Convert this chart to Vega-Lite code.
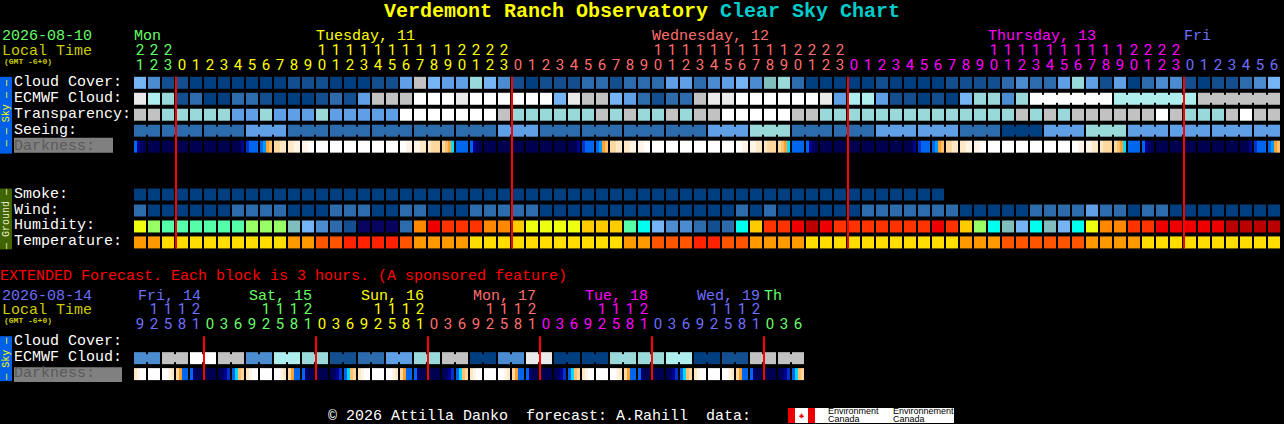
{"$schema":"https://vega.github.io/schema/vega-lite/v6.json","width":1284,"height":424,"padding":0,"autosize":{"type":"fit","contains":"padding"},"background":"#000000","config":{"view":{"stroke":null}},
"encoding":{"x":{"field":"col","type":"quantitative","axis":null,"scale":{"domain":[-10,81.7142857],"nice":false,"zero":false}},"y":{"field":"row","type":"quantitative","axis":null,"scale":{"domain":[-5.1875,21.3125],"reverse":true,"nice":false,"zero":false}},"color":{"field":"cat","type":"nominal","legend":null,"scale":{"domain":["a","b","c","d","e","f","g","h","i","j","k","w","n","YG","G","M","CY","Y2","O","R","E","D","P","Q","S","T","n0","n1","n2","n3","B","B2","C","O1","O2","O3","O4","O5","gr","ye","sa","ma","bl","wh","lo","re","cy","dg","bk","sk","gb","gy","fl","gt"],"range":["#003F7F","#134F8F","#2C6CAC","#4B8BD0","#5F9FE5","#74B4F5","#80BDBD","#99D9D9","#AEEEEE","#C2C2C2","#EAEAEA","#FFFFFF","#08035F","#EEFF10","#99FF66","#55FFAA","#00FFEE","#FFCC00","#FF8800","#FF3300","#EE0000","#BB0000","#FF9900","#FFDD00","#FF5500","#FF2200","#000050","#00006A","#000090","#0033CC","#0066EE","#0099FF","#00DDFF","#FFA030","#FFC070","#FFD8A0","#FFE8C8","#FFF4E6","#66FF66","#FFFF00","#FF6E6E","#FF00FF","#6E6EFF","#FFFFFF","#CCCC00","#FF0000","#00CCCC","#5A5A5A","#000000","#0060E8","#3F6400","#808080","#EE0000","#EEEECC"]}}},
"layer":[
{"data":{"values":[
{"col":-10,"col2":-9.143,"row":-0.375,"row2":4.4375,"cat":"sk"},
{"col":-10,"col2":-9.143,"row":6.625,"row2":10.4375,"cat":"gb"},
{"col":-10,"col2":-9.143,"row":15.875,"row2":18.6875,"cat":"sk"},
{"col":-9,"col2":-1.929,"row":3.4375,"row2":4.375,"cat":"gy"},
{"col":-9,"col2":-1.286,"row":17.8125,"row2":18.75,"cat":"gy"},
{"col":46.286,"col2":58.143,"row":20.375,"row2":21.3125,"cat":"wh"},
{"col":46.286,"col2":46.786,"row":20.375,"row2":21.3125,"cat":"fl"},
{"col":47.714,"col2":48.214,"row":20.375,"row2":21.3125,"cat":"fl"}]},
"mark":{"type":"rect"},"encoding":{"x2":{"field":"col2"},"y2":{"field":"row2"}}},
{"data":{"values":[{"col":47.25,"row":20.875,"cat":"fl"}]},"mark":{"type":"point","filled":true,"opacity":1,"size":30,"shape":"M0,-1 L.25,-.45 .5,-.6 .4,-.1 .9,-.2 .75,.1 .95,.3 .3,.45 .35,.7 .05,.6 .05,1 -.05,1 -.05,.6 -.35,.7 -.3,.45 -.95,.3 -.75,.1 -.9,-.2 -.4,-.1 -.5,-.6 -.25,-.45Z"}},
{"data":{"values":[
{"col":0,"row":0,"cat":"f"},{"col":1,"row":0,"cat":"d"},{"col":2,"row":0,"cat":"b"},{"col":3,"row":0,"cat":"b"},{"col":4,"row":0,"cat":"a"},{"col":5,"row":0,"cat":"a"},{"col":6,"row":0,"cat":"a"},{"col":7,"row":0,"cat":"a"},{"col":8,"row":0,"cat":"a"},{"col":9,"row":0,"cat":"a"},{"col":10,"row":0,"cat":"a"},{"col":11,"row":0,"cat":"b"},{"col":12,"row":0,"cat":"b"},{"col":13,"row":0,"cat":"b"},{"col":14,"row":0,"cat":"a"},{"col":15,"row":0,"cat":"a"},{"col":16,"row":0,"cat":"a"},{"col":17,"row":0,"cat":"b"},{"col":18,"row":0,"cat":"b"},{"col":19,"row":0,"cat":"e"},{"col":20,"row":0,"cat":"j"},{"col":21,"row":0,"cat":"f"},{"col":22,"row":0,"cat":"e"},{"col":23,"row":0,"cat":"e"},{"col":24,"row":0,"cat":"h"},{"col":25,"row":0,"cat":"f"},{"col":26,"row":0,"cat":"d"},{"col":27,"row":0,"cat":"b"},{"col":28,"row":0,"cat":"a"},{"col":29,"row":0,"cat":"b"},{"col":30,"row":0,"cat":"b"},{"col":31,"row":0,"cat":"b"},{"col":32,"row":0,"cat":"c"},{"col":33,"row":0,"cat":"c"},{"col":34,"row":0,"cat":"b"},{"col":35,"row":0,"cat":"c"},{"col":36,"row":0,"cat":"c"},{"col":37,"row":0,"cat":"c"},{"col":38,"row":0,"cat":"e"},{"col":39,"row":0,"cat":"e"},{"col":40,"row":0,"cat":"c"},{"col":41,"row":0,"cat":"d"},{"col":42,"row":0,"cat":"e"},{"col":43,"row":0,"cat":"f"},{"col":44,"row":0,"cat":"d"},{"col":45,"row":0,"cat":"g"},{"col":46,"row":0,"cat":"h"},{"col":47,"row":0,"cat":"c"},{"col":48,"row":0,"cat":"a"},{"col":49,"row":0,"cat":"a"},{"col":50,"row":0,"cat":"a"},{"col":51,"row":0,"cat":"a"},{"col":52,"row":0,"cat":"a"},{"col":53,"row":0,"cat":"b"},{"col":54,"row":0,"cat":"a"},{"col":55,"row":0,"cat":"a"},{"col":56,"row":0,"cat":"a"},{"col":57,"row":0,"cat":"a"},{"col":58,"row":0,"cat":"b"},{"col":59,"row":0,"cat":"b"},{"col":60,"row":0,"cat":"b"},{"col":61,"row":0,"cat":"b"},{"col":62,"row":0,"cat":"c"},{"col":63,"row":0,"cat":"d"},{"col":64,"row":0,"cat":"c"},{"col":65,"row":0,"cat":"c"},{"col":66,"row":0,"cat":"e"},{"col":67,"row":0,"cat":"h"},{"col":68,"row":0,"cat":"e"},{"col":69,"row":0,"cat":"b"},{"col":70,"row":0,"cat":"e"},{"col":71,"row":0,"cat":"a"},{"col":72,"row":0,"cat":"c"},{"col":73,"row":0,"cat":"d"},{"col":74,"row":0,"cat":"d"},{"col":75,"row":0,"cat":"b"},{"col":76,"row":0,"cat":"a"},{"col":77,"row":0,"cat":"b"},{"col":78,"row":0,"cat":"b"},{"col":79,"row":0,"cat":"c"},{"col":80,"row":0,"cat":"d"},{"col":81,"row":0,"cat":"f"},
{"col":0,"row":1,"cat":"k"},{"col":1,"row":1,"cat":"i"},{"col":2,"row":1,"cat":"h"},{"col":3,"row":1,"cat":"b"},{"col":4,"row":1,"cat":"c"},{"col":5,"row":1,"cat":"a"},{"col":6,"row":1,"cat":"a"},{"col":7,"row":1,"cat":"c"},{"col":8,"row":1,"cat":"c"},{"col":9,"row":1,"cat":"b"},{"col":10,"row":1,"cat":"a"},{"col":11,"row":1,"cat":"a"},{"col":12,"row":1,"cat":"a"},{"col":13,"row":1,"cat":"b"},{"col":14,"row":1,"cat":"c"},{"col":15,"row":1,"cat":"b"},{"col":16,"row":1,"cat":"e"},{"col":17,"row":1,"cat":"j"},{"col":18,"row":1,"cat":"j"},{"col":19,"row":1,"cat":"j"},{"col":20,"row":1,"cat":"w"},{"col":21,"row":1,"cat":"w"},{"col":22,"row":1,"cat":"w"},{"col":23,"row":1,"cat":"k"},{"col":24,"row":1,"cat":"w"},{"col":25,"row":1,"cat":"w"},{"col":26,"row":1,"cat":"w"},{"col":27,"row":1,"cat":"w"},{"col":28,"row":1,"cat":"w"},{"col":29,"row":1,"cat":"w"},{"col":30,"row":1,"cat":"f"},{"col":31,"row":1,"cat":"k"},{"col":32,"row":1,"cat":"j"},{"col":33,"row":1,"cat":"j"},{"col":34,"row":1,"cat":"f"},{"col":35,"row":1,"cat":"e"},{"col":36,"row":1,"cat":"c"},{"col":37,"row":1,"cat":"b"},{"col":38,"row":1,"cat":"c"},{"col":39,"row":1,"cat":"c"},{"col":40,"row":1,"cat":"j"},{"col":41,"row":1,"cat":"k"},{"col":42,"row":1,"cat":"k"},{"col":43,"row":1,"cat":"w"},{"col":44,"row":1,"cat":"w"},{"col":45,"row":1,"cat":"w"},{"col":46,"row":1,"cat":"w"},{"col":47,"row":1,"cat":"w"},{"col":48,"row":1,"cat":"w"},{"col":49,"row":1,"cat":"k"},{"col":50,"row":1,"cat":"e"},{"col":51,"row":1,"cat":"i"},{"col":52,"row":1,"cat":"i"},{"col":53,"row":1,"cat":"e"},{"col":54,"row":1,"cat":"b"},{"col":55,"row":1,"cat":"b"},{"col":56,"row":1,"cat":"a"},{"col":57,"row":1,"cat":"b"},{"col":58,"row":1,"cat":"a"},{"col":59,"row":1,"cat":"f"},{"col":60,"row":1,"cat":"h"},{"col":61,"row":1,"cat":"h"},{"col":62,"row":1,"cat":"d"},{"col":63,"row":1,"cat":"h"},{"col":64,"row":1,"cat":"w"},{"col":65,"row":1,"cat":"w"},{"col":66,"row":1,"cat":"w"},{"col":67,"row":1,"cat":"w"},{"col":68,"row":1,"cat":"w"},{"col":69,"row":1,"cat":"w"},{"col":70,"row":1,"cat":"i"},{"col":71,"row":1,"cat":"i"},{"col":72,"row":1,"cat":"i"},{"col":73,"row":1,"cat":"i"},{"col":74,"row":1,"cat":"i"},{"col":75,"row":1,"cat":"i"},{"col":76,"row":1,"cat":"j"},{"col":77,"row":1,"cat":"j"},{"col":78,"row":1,"cat":"j"},{"col":79,"row":1,"cat":"j"},{"col":80,"row":1,"cat":"j"},{"col":81,"row":1,"cat":"j"},
{"col":0,"row":2,"cat":"j"},{"col":1,"row":2,"cat":"j"},{"col":2,"row":2,"cat":"h"},{"col":3,"row":2,"cat":"h"},{"col":4,"row":2,"cat":"h"},{"col":5,"row":2,"cat":"h"},{"col":6,"row":2,"cat":"h"},{"col":7,"row":2,"cat":"e"},{"col":8,"row":2,"cat":"e"},{"col":9,"row":2,"cat":"h"},{"col":10,"row":2,"cat":"e"},{"col":11,"row":2,"cat":"e"},{"col":12,"row":2,"cat":"e"},{"col":13,"row":2,"cat":"h"},{"col":14,"row":2,"cat":"e"},{"col":15,"row":2,"cat":"e"},{"col":16,"row":2,"cat":"e"},{"col":17,"row":2,"cat":"e"},{"col":18,"row":2,"cat":"e"},{"col":19,"row":2,"cat":"w"},{"col":20,"row":2,"cat":"w"},{"col":21,"row":2,"cat":"w"},{"col":22,"row":2,"cat":"w"},{"col":23,"row":2,"cat":"w"},{"col":24,"row":2,"cat":"w"},{"col":25,"row":2,"cat":"w"},{"col":26,"row":2,"cat":"j"},{"col":27,"row":2,"cat":"h"},{"col":28,"row":2,"cat":"h"},{"col":29,"row":2,"cat":"h"},{"col":30,"row":2,"cat":"h"},{"col":31,"row":2,"cat":"h"},{"col":32,"row":2,"cat":"h"},{"col":33,"row":2,"cat":"j"},{"col":34,"row":2,"cat":"h"},{"col":35,"row":2,"cat":"j"},{"col":36,"row":2,"cat":"h"},{"col":37,"row":2,"cat":"h"},{"col":38,"row":2,"cat":"j"},{"col":39,"row":2,"cat":"h"},{"col":40,"row":2,"cat":"j"},{"col":41,"row":2,"cat":"j"},{"col":42,"row":2,"cat":"w"},{"col":43,"row":2,"cat":"w"},{"col":44,"row":2,"cat":"w"},{"col":45,"row":2,"cat":"w"},{"col":46,"row":2,"cat":"w"},{"col":47,"row":2,"cat":"j"},{"col":48,"row":2,"cat":"j"},{"col":49,"row":2,"cat":"h"},{"col":50,"row":2,"cat":"h"},{"col":51,"row":2,"cat":"h"},{"col":52,"row":2,"cat":"h"},{"col":53,"row":2,"cat":"h"},{"col":54,"row":2,"cat":"h"},{"col":55,"row":2,"cat":"h"},{"col":56,"row":2,"cat":"h"},{"col":57,"row":2,"cat":"h"},{"col":58,"row":2,"cat":"h"},{"col":59,"row":2,"cat":"h"},{"col":60,"row":2,"cat":"h"},{"col":61,"row":2,"cat":"h"},{"col":62,"row":2,"cat":"h"},{"col":63,"row":2,"cat":"j"},{"col":64,"row":2,"cat":"h"},{"col":65,"row":2,"cat":"j"},{"col":66,"row":2,"cat":"h"},{"col":67,"row":2,"cat":"j"},{"col":68,"row":2,"cat":"j"},{"col":69,"row":2,"cat":"j"},{"col":70,"row":2,"cat":"j"},{"col":71,"row":2,"cat":"j"},{"col":72,"row":2,"cat":"j"},{"col":73,"row":2,"cat":"w"},{"col":74,"row":2,"cat":"j"},{"col":75,"row":2,"cat":"h"},{"col":76,"row":2,"cat":"h"},{"col":77,"row":2,"cat":"h"},{"col":78,"row":2,"cat":"j"},{"col":79,"row":2,"cat":"w"},{"col":80,"row":2,"cat":"j"},{"col":81,"row":2,"cat":"j"},
{"col":0,"row":3,"cat":"c"},{"col":1,"row":3,"cat":"c"},{"col":2,"row":3,"cat":"c"},{"col":3,"row":3,"cat":"c"},{"col":4,"row":3,"cat":"c"},{"col":5,"row":3,"cat":"c"},{"col":6,"row":3,"cat":"c"},{"col":7,"row":3,"cat":"c"},{"col":8,"row":3,"cat":"e"},{"col":9,"row":3,"cat":"e"},{"col":10,"row":3,"cat":"e"},{"col":11,"row":3,"cat":"c"},{"col":12,"row":3,"cat":"c"},{"col":13,"row":3,"cat":"c"},{"col":14,"row":3,"cat":"c"},{"col":15,"row":3,"cat":"c"},{"col":16,"row":3,"cat":"c"},{"col":17,"row":3,"cat":"c"},{"col":18,"row":3,"cat":"c"},{"col":19,"row":3,"cat":"c"},{"col":20,"row":3,"cat":"c"},{"col":21,"row":3,"cat":"c"},{"col":22,"row":3,"cat":"c"},{"col":23,"row":3,"cat":"c"},{"col":24,"row":3,"cat":"c"},{"col":25,"row":3,"cat":"c"},{"col":26,"row":3,"cat":"e"},{"col":27,"row":3,"cat":"e"},{"col":28,"row":3,"cat":"e"},{"col":29,"row":3,"cat":"c"},{"col":30,"row":3,"cat":"c"},{"col":31,"row":3,"cat":"c"},{"col":32,"row":3,"cat":"c"},{"col":33,"row":3,"cat":"c"},{"col":34,"row":3,"cat":"c"},{"col":35,"row":3,"cat":"c"},{"col":36,"row":3,"cat":"c"},{"col":37,"row":3,"cat":"c"},{"col":38,"row":3,"cat":"c"},{"col":39,"row":3,"cat":"c"},{"col":40,"row":3,"cat":"c"},{"col":41,"row":3,"cat":"e"},{"col":42,"row":3,"cat":"e"},{"col":43,"row":3,"cat":"e"},{"col":44,"row":3,"cat":"h"},{"col":45,"row":3,"cat":"h"},{"col":46,"row":3,"cat":"h"},{"col":47,"row":3,"cat":"c"},{"col":48,"row":3,"cat":"c"},{"col":49,"row":3,"cat":"c"},{"col":50,"row":3,"cat":"c"},{"col":51,"row":3,"cat":"c"},{"col":52,"row":3,"cat":"c"},{"col":53,"row":3,"cat":"e"},{"col":54,"row":3,"cat":"e"},{"col":55,"row":3,"cat":"e"},{"col":56,"row":3,"cat":"e"},{"col":57,"row":3,"cat":"e"},{"col":58,"row":3,"cat":"e"},{"col":59,"row":3,"cat":"c"},{"col":60,"row":3,"cat":"c"},{"col":61,"row":3,"cat":"c"},{"col":62,"row":3,"cat":"a"},{"col":63,"row":3,"cat":"a"},{"col":64,"row":3,"cat":"a"},{"col":65,"row":3,"cat":"e"},{"col":66,"row":3,"cat":"e"},{"col":67,"row":3,"cat":"e"},{"col":68,"row":3,"cat":"h"},{"col":69,"row":3,"cat":"h"},{"col":70,"row":3,"cat":"h"},{"col":71,"row":3,"cat":"e"},{"col":72,"row":3,"cat":"e"},{"col":73,"row":3,"cat":"e"},{"col":74,"row":3,"cat":"e"},{"col":75,"row":3,"cat":"e"},{"col":76,"row":3,"cat":"e"},{"col":77,"row":3,"cat":"e"},{"col":78,"row":3,"cat":"e"},{"col":79,"row":3,"cat":"e"},{"col":80,"row":3,"cat":"e"},{"col":81,"row":3,"cat":"e"},
{"col":1,"row":4,"cat":"n0"},{"col":2,"row":4,"cat":"n0"},{"col":3,"row":4,"cat":"n0"},{"col":4,"row":4,"cat":"n0"},{"col":5,"row":4,"cat":"n0"},{"col":6,"row":4,"cat":"n0"},{"col":13,"row":4,"cat":"w"},{"col":14,"row":4,"cat":"w"},{"col":15,"row":4,"cat":"w"},{"col":16,"row":4,"cat":"w"},{"col":17,"row":4,"cat":"w"},{"col":18,"row":4,"cat":"w"},{"col":23,"row":4,"cat":"B"},{"col":25,"row":4,"cat":"n0"},{"col":26,"row":4,"cat":"n0"},{"col":27,"row":4,"cat":"n0"},{"col":28,"row":4,"cat":"n0"},{"col":29,"row":4,"cat":"n0"},{"col":30,"row":4,"cat":"n0"},{"col":37,"row":4,"cat":"w"},{"col":38,"row":4,"cat":"w"},{"col":39,"row":4,"cat":"w"},{"col":40,"row":4,"cat":"w"},{"col":41,"row":4,"cat":"w"},{"col":42,"row":4,"cat":"w"},{"col":47,"row":4,"cat":"B"},{"col":49,"row":4,"cat":"n0"},{"col":50,"row":4,"cat":"n0"},{"col":51,"row":4,"cat":"n0"},{"col":52,"row":4,"cat":"n0"},{"col":53,"row":4,"cat":"n0"},{"col":54,"row":4,"cat":"n0"},{"col":61,"row":4,"cat":"w"},{"col":62,"row":4,"cat":"w"},{"col":63,"row":4,"cat":"w"},{"col":64,"row":4,"cat":"w"},{"col":65,"row":4,"cat":"w"},{"col":66,"row":4,"cat":"w"},{"col":71,"row":4,"cat":"B"},{"col":73,"row":4,"cat":"n0"},{"col":74,"row":4,"cat":"n0"},{"col":75,"row":4,"cat":"n0"},{"col":76,"row":4,"cat":"n0"},{"col":77,"row":4,"cat":"n0"},{"col":78,"row":4,"cat":"n0"},
{"col":0,"row":7,"cat":"a"},{"col":1,"row":7,"cat":"a"},{"col":2,"row":7,"cat":"a"},{"col":3,"row":7,"cat":"a"},{"col":4,"row":7,"cat":"a"},{"col":5,"row":7,"cat":"a"},{"col":6,"row":7,"cat":"a"},{"col":7,"row":7,"cat":"a"},{"col":8,"row":7,"cat":"a"},{"col":9,"row":7,"cat":"a"},{"col":10,"row":7,"cat":"a"},{"col":11,"row":7,"cat":"a"},{"col":12,"row":7,"cat":"a"},{"col":13,"row":7,"cat":"a"},{"col":14,"row":7,"cat":"a"},{"col":15,"row":7,"cat":"a"},{"col":16,"row":7,"cat":"a"},{"col":17,"row":7,"cat":"a"},{"col":18,"row":7,"cat":"a"},{"col":19,"row":7,"cat":"a"},{"col":20,"row":7,"cat":"a"},{"col":21,"row":7,"cat":"a"},{"col":22,"row":7,"cat":"a"},{"col":23,"row":7,"cat":"a"},{"col":24,"row":7,"cat":"a"},{"col":25,"row":7,"cat":"a"},{"col":26,"row":7,"cat":"a"},{"col":27,"row":7,"cat":"a"},{"col":28,"row":7,"cat":"a"},{"col":29,"row":7,"cat":"a"},{"col":30,"row":7,"cat":"a"},{"col":31,"row":7,"cat":"a"},{"col":32,"row":7,"cat":"a"},{"col":33,"row":7,"cat":"a"},{"col":34,"row":7,"cat":"a"},{"col":35,"row":7,"cat":"a"},{"col":36,"row":7,"cat":"a"},{"col":37,"row":7,"cat":"a"},{"col":38,"row":7,"cat":"a"},{"col":39,"row":7,"cat":"a"},{"col":40,"row":7,"cat":"a"},{"col":41,"row":7,"cat":"a"},{"col":42,"row":7,"cat":"a"},{"col":43,"row":7,"cat":"a"},{"col":44,"row":7,"cat":"a"},{"col":45,"row":7,"cat":"a"},{"col":46,"row":7,"cat":"a"},{"col":47,"row":7,"cat":"a"},{"col":48,"row":7,"cat":"a"},{"col":49,"row":7,"cat":"a"},{"col":50,"row":7,"cat":"a"},{"col":51,"row":7,"cat":"a"},{"col":52,"row":7,"cat":"a"},{"col":53,"row":7,"cat":"a"},{"col":54,"row":7,"cat":"a"},{"col":55,"row":7,"cat":"a"},{"col":56,"row":7,"cat":"a"},{"col":57,"row":7,"cat":"a"},
{"col":0,"row":8,"cat":"c"},{"col":1,"row":8,"cat":"a"},{"col":2,"row":8,"cat":"a"},{"col":3,"row":8,"cat":"a"},{"col":4,"row":8,"cat":"a"},{"col":5,"row":8,"cat":"a"},{"col":6,"row":8,"cat":"a"},{"col":7,"row":8,"cat":"c"},{"col":8,"row":8,"cat":"c"},{"col":9,"row":8,"cat":"c"},{"col":10,"row":8,"cat":"c"},{"col":11,"row":8,"cat":"a"},{"col":12,"row":8,"cat":"a"},{"col":13,"row":8,"cat":"a"},{"col":14,"row":8,"cat":"c"},{"col":15,"row":8,"cat":"c"},{"col":16,"row":8,"cat":"c"},{"col":17,"row":8,"cat":"a"},{"col":18,"row":8,"cat":"a"},{"col":19,"row":8,"cat":"c"},{"col":20,"row":8,"cat":"c"},{"col":21,"row":8,"cat":"a"},{"col":22,"row":8,"cat":"a"},{"col":23,"row":8,"cat":"a"},{"col":24,"row":8,"cat":"c"},{"col":25,"row":8,"cat":"c"},{"col":26,"row":8,"cat":"c"},{"col":27,"row":8,"cat":"c"},{"col":28,"row":8,"cat":"c"},{"col":29,"row":8,"cat":"a"},{"col":30,"row":8,"cat":"a"},{"col":31,"row":8,"cat":"a"},{"col":32,"row":8,"cat":"a"},{"col":33,"row":8,"cat":"a"},{"col":34,"row":8,"cat":"a"},{"col":35,"row":8,"cat":"a"},{"col":36,"row":8,"cat":"a"},{"col":37,"row":8,"cat":"a"},{"col":38,"row":8,"cat":"a"},{"col":39,"row":8,"cat":"a"},{"col":40,"row":8,"cat":"a"},{"col":41,"row":8,"cat":"a"},{"col":42,"row":8,"cat":"a"},{"col":43,"row":8,"cat":"c"},{"col":44,"row":8,"cat":"a"},{"col":45,"row":8,"cat":"c"},{"col":46,"row":8,"cat":"a"},{"col":47,"row":8,"cat":"a"},{"col":48,"row":8,"cat":"a"},{"col":49,"row":8,"cat":"a"},{"col":50,"row":8,"cat":"a"},{"col":51,"row":8,"cat":"a"},{"col":52,"row":8,"cat":"c"},{"col":53,"row":8,"cat":"c"},{"col":54,"row":8,"cat":"c"},{"col":55,"row":8,"cat":"c"},{"col":56,"row":8,"cat":"c"},{"col":57,"row":8,"cat":"c"},{"col":58,"row":8,"cat":"c"},{"col":59,"row":8,"cat":"a"},{"col":60,"row":8,"cat":"a"},{"col":61,"row":8,"cat":"a"},{"col":62,"row":8,"cat":"a"},{"col":63,"row":8,"cat":"a"},{"col":64,"row":8,"cat":"c"},{"col":65,"row":8,"cat":"c"},{"col":66,"row":8,"cat":"c"},{"col":67,"row":8,"cat":"c"},{"col":68,"row":8,"cat":"e"},{"col":69,"row":8,"cat":"c"},{"col":70,"row":8,"cat":"c"},{"col":71,"row":8,"cat":"a"},{"col":72,"row":8,"cat":"c"},{"col":73,"row":8,"cat":"c"},{"col":74,"row":8,"cat":"a"},{"col":75,"row":8,"cat":"a"},{"col":76,"row":8,"cat":"a"},{"col":77,"row":8,"cat":"a"},{"col":78,"row":8,"cat":"a"},{"col":79,"row":8,"cat":"a"},{"col":80,"row":8,"cat":"a"},{"col":81,"row":8,"cat":"a"},
{"col":0,"row":9,"cat":"YG"},{"col":1,"row":9,"cat":"G"},{"col":2,"row":9,"cat":"M"},{"col":3,"row":9,"cat":"M"},{"col":4,"row":9,"cat":"M"},{"col":5,"row":9,"cat":"M"},{"col":6,"row":9,"cat":"M"},{"col":7,"row":9,"cat":"M"},{"col":8,"row":9,"cat":"G"},{"col":9,"row":9,"cat":"G"},{"col":10,"row":9,"cat":"G"},{"col":11,"row":9,"cat":"g"},{"col":12,"row":9,"cat":"f"},{"col":13,"row":9,"cat":"d"},{"col":14,"row":9,"cat":"c"},{"col":15,"row":9,"cat":"b"},{"col":16,"row":9,"cat":"n"},{"col":17,"row":9,"cat":"n"},{"col":18,"row":9,"cat":"n"},{"col":19,"row":9,"cat":"c"},{"col":20,"row":9,"cat":"O"},{"col":21,"row":9,"cat":"E"},{"col":22,"row":9,"cat":"R"},{"col":23,"row":9,"cat":"R"},{"col":24,"row":9,"cat":"R"},{"col":25,"row":9,"cat":"O"},{"col":26,"row":9,"cat":"O"},{"col":27,"row":9,"cat":"Y2"},{"col":28,"row":9,"cat":"YG"},{"col":29,"row":9,"cat":"YG"},{"col":30,"row":9,"cat":"YG"},{"col":31,"row":9,"cat":"YG"},{"col":32,"row":9,"cat":"Y2"},{"col":33,"row":9,"cat":"Y2"},{"col":34,"row":9,"cat":"Y2"},{"col":35,"row":9,"cat":"M"},{"col":36,"row":9,"cat":"CY"},{"col":37,"row":9,"cat":"f"},{"col":38,"row":9,"cat":"d"},{"col":39,"row":9,"cat":"d"},{"col":40,"row":9,"cat":"c"},{"col":41,"row":9,"cat":"b"},{"col":42,"row":9,"cat":"c"},{"col":43,"row":9,"cat":"CY"},{"col":44,"row":9,"cat":"Y2"},{"col":45,"row":9,"cat":"R"},{"col":46,"row":9,"cat":"R"},{"col":47,"row":9,"cat":"E"},{"col":48,"row":9,"cat":"D"},{"col":49,"row":9,"cat":"E"},{"col":50,"row":9,"cat":"R"},{"col":51,"row":9,"cat":"R"},{"col":52,"row":9,"cat":"R"},{"col":53,"row":9,"cat":"R"},{"col":54,"row":9,"cat":"R"},{"col":55,"row":9,"cat":"R"},{"col":56,"row":9,"cat":"R"},{"col":57,"row":9,"cat":"E"},{"col":58,"row":9,"cat":"R"},{"col":59,"row":9,"cat":"Y2"},{"col":60,"row":9,"cat":"G"},{"col":61,"row":9,"cat":"CY"},{"col":62,"row":9,"cat":"g"},{"col":63,"row":9,"cat":"f"},{"col":64,"row":9,"cat":"CY"},{"col":65,"row":9,"cat":"g"},{"col":66,"row":9,"cat":"f"},{"col":67,"row":9,"cat":"CY"},{"col":68,"row":9,"cat":"YG"},{"col":69,"row":9,"cat":"O"},{"col":70,"row":9,"cat":"O"},{"col":71,"row":9,"cat":"R"},{"col":72,"row":9,"cat":"R"},{"col":73,"row":9,"cat":"E"},{"col":74,"row":9,"cat":"E"},{"col":75,"row":9,"cat":"E"},{"col":76,"row":9,"cat":"E"},{"col":77,"row":9,"cat":"E"},{"col":78,"row":9,"cat":"D"},{"col":79,"row":9,"cat":"D"},{"col":80,"row":9,"cat":"D"},{"col":81,"row":9,"cat":"D"},
{"col":0,"row":10,"cat":"P"},{"col":1,"row":10,"cat":"P"},{"col":2,"row":10,"cat":"Q"},{"col":3,"row":10,"cat":"Q"},{"col":4,"row":10,"cat":"Q"},{"col":5,"row":10,"cat":"Q"},{"col":6,"row":10,"cat":"Q"},{"col":7,"row":10,"cat":"Q"},{"col":8,"row":10,"cat":"Q"},{"col":9,"row":10,"cat":"Q"},{"col":10,"row":10,"cat":"Q"},{"col":11,"row":10,"cat":"P"},{"col":12,"row":10,"cat":"P"},{"col":13,"row":10,"cat":"S"},{"col":14,"row":10,"cat":"S"},{"col":15,"row":10,"cat":"T"},{"col":16,"row":10,"cat":"T"},{"col":17,"row":10,"cat":"T"},{"col":18,"row":10,"cat":"T"},{"col":19,"row":10,"cat":"S"},{"col":20,"row":10,"cat":"P"},{"col":21,"row":10,"cat":"P"},{"col":22,"row":10,"cat":"P"},{"col":23,"row":10,"cat":"P"},{"col":24,"row":10,"cat":"Q"},{"col":25,"row":10,"cat":"Q"},{"col":26,"row":10,"cat":"Q"},{"col":27,"row":10,"cat":"Q"},{"col":28,"row":10,"cat":"Q"},{"col":29,"row":10,"cat":"Q"},{"col":30,"row":10,"cat":"Q"},{"col":31,"row":10,"cat":"Q"},{"col":32,"row":10,"cat":"Q"},{"col":33,"row":10,"cat":"Q"},{"col":34,"row":10,"cat":"Q"},{"col":35,"row":10,"cat":"P"},{"col":36,"row":10,"cat":"P"},{"col":37,"row":10,"cat":"S"},{"col":38,"row":10,"cat":"S"},{"col":39,"row":10,"cat":"S"},{"col":40,"row":10,"cat":"T"},{"col":41,"row":10,"cat":"T"},{"col":42,"row":10,"cat":"S"},{"col":43,"row":10,"cat":"S"},{"col":44,"row":10,"cat":"P"},{"col":45,"row":10,"cat":"P"},{"col":46,"row":10,"cat":"P"},{"col":47,"row":10,"cat":"P"},{"col":48,"row":10,"cat":"Q"},{"col":49,"row":10,"cat":"Q"},{"col":50,"row":10,"cat":"Q"},{"col":51,"row":10,"cat":"Q"},{"col":52,"row":10,"cat":"Q"},{"col":53,"row":10,"cat":"Q"},{"col":54,"row":10,"cat":"Q"},{"col":55,"row":10,"cat":"Q"},{"col":56,"row":10,"cat":"Q"},{"col":57,"row":10,"cat":"Q"},{"col":58,"row":10,"cat":"Q"},{"col":59,"row":10,"cat":"P"},{"col":60,"row":10,"cat":"P"},{"col":61,"row":10,"cat":"P"},{"col":62,"row":10,"cat":"S"},{"col":63,"row":10,"cat":"S"},{"col":64,"row":10,"cat":"S"},{"col":65,"row":10,"cat":"S"},{"col":66,"row":10,"cat":"S"},{"col":67,"row":10,"cat":"S"},{"col":68,"row":10,"cat":"P"},{"col":69,"row":10,"cat":"P"},{"col":70,"row":10,"cat":"P"},{"col":71,"row":10,"cat":"P"},{"col":72,"row":10,"cat":"Q"},{"col":73,"row":10,"cat":"Q"},{"col":74,"row":10,"cat":"Q"},{"col":75,"row":10,"cat":"Q"},{"col":76,"row":10,"cat":"Q"},{"col":77,"row":10,"cat":"Q"},{"col":78,"row":10,"cat":"Q"},{"col":79,"row":10,"cat":"Q"},{"col":80,"row":10,"cat":"Q"},{"col":81,"row":10,"cat":"Q"},
{"col":0,"row":17.25,"cat":"d"},{"col":1,"row":17.25,"cat":"d"},{"col":2,"row":17.25,"cat":"j"},{"col":3,"row":17.25,"cat":"j"},{"col":4,"row":17.25,"cat":"w"},{"col":5,"row":17.25,"cat":"w"},{"col":6,"row":17.25,"cat":"j"},{"col":7,"row":17.25,"cat":"j"},{"col":8,"row":17.25,"cat":"d"},{"col":9,"row":17.25,"cat":"d"},{"col":10,"row":17.25,"cat":"i"},{"col":11,"row":17.25,"cat":"i"},{"col":12,"row":17.25,"cat":"h"},{"col":13,"row":17.25,"cat":"h"},{"col":14,"row":17.25,"cat":"b"},{"col":15,"row":17.25,"cat":"b"},{"col":16,"row":17.25,"cat":"c"},{"col":17,"row":17.25,"cat":"c"},{"col":18,"row":17.25,"cat":"e"},{"col":19,"row":17.25,"cat":"e"},{"col":20,"row":17.25,"cat":"h"},{"col":21,"row":17.25,"cat":"h"},{"col":22,"row":17.25,"cat":"j"},{"col":23,"row":17.25,"cat":"j"},{"col":24,"row":17.25,"cat":"a"},{"col":25,"row":17.25,"cat":"a"},{"col":26,"row":17.25,"cat":"d"},{"col":27,"row":17.25,"cat":"d"},{"col":28,"row":17.25,"cat":"k"},{"col":29,"row":17.25,"cat":"k"},{"col":30,"row":17.25,"cat":"a"},{"col":31,"row":17.25,"cat":"a"},{"col":32,"row":17.25,"cat":"a"},{"col":33,"row":17.25,"cat":"a"},{"col":34,"row":17.25,"cat":"h"},{"col":35,"row":17.25,"cat":"h"},{"col":36,"row":17.25,"cat":"h"},{"col":37,"row":17.25,"cat":"h"},{"col":38,"row":17.25,"cat":"i"},{"col":39,"row":17.25,"cat":"i"},{"col":40,"row":17.25,"cat":"a"},{"col":41,"row":17.25,"cat":"a"},{"col":42,"row":17.25,"cat":"b"},{"col":43,"row":17.25,"cat":"b"},{"col":44,"row":17.25,"cat":"j"},{"col":45,"row":17.25,"cat":"j"},{"col":46,"row":17.25,"cat":"j"},{"col":47,"row":17.25,"cat":"j"},
{"col":1,"row":18.25,"cat":"w"},{"col":5,"row":18.25,"cat":"n0"},{"col":9,"row":18.25,"cat":"w"},{"col":13,"row":18.25,"cat":"n0"},{"col":17,"row":18.25,"cat":"w"},{"col":21,"row":18.25,"cat":"n0"},{"col":25,"row":18.25,"cat":"w"},{"col":29,"row":18.25,"cat":"n0"},{"col":33,"row":18.25,"cat":"w"},{"col":37,"row":18.25,"cat":"n0"},{"col":41,"row":18.25,"cat":"w"},{"col":45,"row":18.25,"cat":"n0"}]},
"mark":{"type":"rect","width":12,"height":12}},
{"data":{"values":[
{"col":0,"row":3,"cat":"c"},{"col":2,"row":3,"cat":"c"},{"col":3,"row":3,"cat":"c"},{"col":5,"row":3,"cat":"c"},{"col":6,"row":3,"cat":"c"},{"col":8,"row":3,"cat":"e"},{"col":9,"row":3,"cat":"e"},{"col":11,"row":3,"cat":"c"},{"col":12,"row":3,"cat":"c"},{"col":14,"row":3,"cat":"c"},{"col":15,"row":3,"cat":"c"},{"col":17,"row":3,"cat":"c"},{"col":18,"row":3,"cat":"c"},{"col":20,"row":3,"cat":"c"},{"col":21,"row":3,"cat":"c"},{"col":23,"row":3,"cat":"c"},{"col":24,"row":3,"cat":"c"},{"col":26,"row":3,"cat":"e"},{"col":27,"row":3,"cat":"e"},{"col":29,"row":3,"cat":"c"},{"col":30,"row":3,"cat":"c"},{"col":32,"row":3,"cat":"c"},{"col":33,"row":3,"cat":"c"},{"col":35,"row":3,"cat":"c"},{"col":36,"row":3,"cat":"c"},{"col":38,"row":3,"cat":"c"},{"col":39,"row":3,"cat":"c"},{"col":41,"row":3,"cat":"e"},{"col":42,"row":3,"cat":"e"},{"col":44,"row":3,"cat":"h"},{"col":45,"row":3,"cat":"h"},{"col":47,"row":3,"cat":"c"},{"col":48,"row":3,"cat":"c"},{"col":50,"row":3,"cat":"c"},{"col":51,"row":3,"cat":"c"},{"col":53,"row":3,"cat":"e"},{"col":54,"row":3,"cat":"e"},{"col":56,"row":3,"cat":"e"},{"col":57,"row":3,"cat":"e"},{"col":59,"row":3,"cat":"c"},{"col":60,"row":3,"cat":"c"},{"col":62,"row":3,"cat":"a"},{"col":63,"row":3,"cat":"a"},{"col":65,"row":3,"cat":"e"},{"col":66,"row":3,"cat":"e"},{"col":68,"row":3,"cat":"h"},{"col":69,"row":3,"cat":"h"},{"col":71,"row":3,"cat":"e"},{"col":72,"row":3,"cat":"e"},{"col":74,"row":3,"cat":"e"},{"col":75,"row":3,"cat":"e"},{"col":77,"row":3,"cat":"e"},{"col":78,"row":3,"cat":"e"},{"col":80,"row":3,"cat":"e"},
{"col":64,"row":1,"cat":"w"},{"col":65,"row":1,"cat":"w"},{"col":66,"row":1,"cat":"w"},{"col":67,"row":1,"cat":"w"},{"col":68,"row":1,"cat":"w"},{"col":70,"row":1,"cat":"i"},{"col":71,"row":1,"cat":"i"},{"col":72,"row":1,"cat":"i"},{"col":73,"row":1,"cat":"i"},{"col":74,"row":1,"cat":"i"},{"col":76,"row":1,"cat":"j"},{"col":77,"row":1,"cat":"j"},{"col":78,"row":1,"cat":"j"},{"col":79,"row":1,"cat":"j"},{"col":80,"row":1,"cat":"j"},
{"col":0,"row":17.25,"cat":"d"},{"col":2,"row":17.25,"cat":"j"},{"col":4,"row":17.25,"cat":"w"},{"col":6,"row":17.25,"cat":"j"},{"col":8,"row":17.25,"cat":"d"},{"col":10,"row":17.25,"cat":"i"},{"col":12,"row":17.25,"cat":"h"},{"col":14,"row":17.25,"cat":"b"},{"col":16,"row":17.25,"cat":"c"},{"col":18,"row":17.25,"cat":"e"},{"col":20,"row":17.25,"cat":"h"},{"col":22,"row":17.25,"cat":"j"},{"col":24,"row":17.25,"cat":"a"},{"col":26,"row":17.25,"cat":"d"},{"col":28,"row":17.25,"cat":"k"},{"col":30,"row":17.25,"cat":"a"},{"col":32,"row":17.25,"cat":"a"},{"col":34,"row":17.25,"cat":"h"},{"col":36,"row":17.25,"cat":"h"},{"col":38,"row":17.25,"cat":"i"},{"col":40,"row":17.25,"cat":"a"},{"col":42,"row":17.25,"cat":"b"},{"col":44,"row":17.25,"cat":"j"},{"col":46,"row":17.25,"cat":"j"}]},
"mark":{"type":"rect","width":4,"height":8,"xOffset":7}},
{"data":{"name":"dusk","values":[
{"col":0,"row":4,"s0":"B","s1":"n2","s2":"n1","s3":"n0"},{"col":7,"row":4,"s0":"n0","s1":"n0","s2":"n0","s3":"n2"},{"col":8,"row":4,"s0":"n3","s1":"B","s2":"B","s3":"B"},{"col":9,"row":4,"s0":"B","s1":"B2","s2":"O1","s3":"O2"},{"col":10,"row":4,"s0":"O3","s1":"O3","s2":"O4","s3":"O4"},{"col":11,"row":4,"s0":"O4","s1":"O4","s2":"O5","s3":"O5"},{"col":12,"row":4,"s0":"O5","s1":"O5","s2":"w","s3":"w"},{"col":19,"row":4,"s0":"w","s1":"w","s2":"O5","s3":"O5"},{"col":20,"row":4,"s0":"O5","s1":"O5","s2":"O4","s3":"O4"},{"col":21,"row":4,"s0":"O4","s1":"O3","s2":"O3","s3":"O3"},{"col":22,"row":4,"s0":"O3","s1":"O2","s2":"O1","s3":"C"},
{"col":24,"row":4,"s0":"B","s1":"n2","s2":"n1","s3":"n0"},{"col":31,"row":4,"s0":"n0","s1":"n0","s2":"n0","s3":"n2"},{"col":32,"row":4,"s0":"n3","s1":"B","s2":"B","s3":"B"},{"col":33,"row":4,"s0":"B","s1":"B2","s2":"O1","s3":"O2"},{"col":34,"row":4,"s0":"O3","s1":"O3","s2":"O4","s3":"O4"},{"col":35,"row":4,"s0":"O4","s1":"O4","s2":"O5","s3":"O5"},{"col":36,"row":4,"s0":"O5","s1":"O5","s2":"w","s3":"w"},{"col":43,"row":4,"s0":"w","s1":"w","s2":"O5","s3":"O5"},{"col":44,"row":4,"s0":"O5","s1":"O5","s2":"O4","s3":"O4"},{"col":45,"row":4,"s0":"O4","s1":"O3","s2":"O3","s3":"O3"},{"col":46,"row":4,"s0":"O3","s1":"O2","s2":"O1","s3":"C"},
{"col":48,"row":4,"s0":"B","s1":"n2","s2":"n1","s3":"n0"},{"col":55,"row":4,"s0":"n0","s1":"n0","s2":"n0","s3":"n2"},{"col":56,"row":4,"s0":"n3","s1":"B","s2":"B","s3":"B"},{"col":57,"row":4,"s0":"B","s1":"B2","s2":"O1","s3":"O2"},{"col":58,"row":4,"s0":"O3","s1":"O3","s2":"O4","s3":"O4"},{"col":59,"row":4,"s0":"O4","s1":"O4","s2":"O5","s3":"O5"},{"col":60,"row":4,"s0":"O5","s1":"O5","s2":"w","s3":"w"},{"col":67,"row":4,"s0":"w","s1":"w","s2":"O5","s3":"O5"},{"col":68,"row":4,"s0":"O5","s1":"O5","s2":"O4","s3":"O4"},{"col":69,"row":4,"s0":"O4","s1":"O3","s2":"O3","s3":"O3"},{"col":70,"row":4,"s0":"O3","s1":"O2","s2":"O1","s3":"C"},
{"col":72,"row":4,"s0":"B","s1":"n2","s2":"n1","s3":"n0"},{"col":79,"row":4,"s0":"n0","s1":"n0","s2":"n0","s3":"n2"},{"col":80,"row":4,"s0":"n3","s1":"B","s2":"B","s3":"B"},{"col":81,"row":4,"s0":"B","s1":"B2","s2":"O1","s3":"O2"},
{"col":0,"row":18.25,"s0":"O4","s1":"O5","s2":"w","s3":"w"},{"col":2,"row":18.25,"s0":"w","s1":"w","s2":"O5","s3":"O4"},{"col":3,"row":18.25,"s0":"O3","s1":"O1","s2":"B","s3":"B"},{"col":4,"row":18.25,"s0":"B","s1":"n1","s2":"n0","s3":"n0"},{"col":6,"row":18.25,"s0":"n0","s1":"n1","s2":"n2","s3":"n3"},{"col":7,"row":18.25,"s0":"B","s1":"C","s2":"O2","s3":"O3"},
{"col":8,"row":18.25,"s0":"O4","s1":"O5","s2":"w","s3":"w"},{"col":10,"row":18.25,"s0":"w","s1":"w","s2":"O5","s3":"O4"},{"col":11,"row":18.25,"s0":"O3","s1":"O1","s2":"B","s3":"B"},{"col":12,"row":18.25,"s0":"B","s1":"n1","s2":"n0","s3":"n0"},{"col":14,"row":18.25,"s0":"n0","s1":"n1","s2":"n2","s3":"n3"},{"col":15,"row":18.25,"s0":"B","s1":"C","s2":"O2","s3":"O3"},
{"col":16,"row":18.25,"s0":"O4","s1":"O5","s2":"w","s3":"w"},{"col":18,"row":18.25,"s0":"w","s1":"w","s2":"O5","s3":"O4"},{"col":19,"row":18.25,"s0":"O3","s1":"O1","s2":"B","s3":"B"},{"col":20,"row":18.25,"s0":"B","s1":"n1","s2":"n0","s3":"n0"},{"col":22,"row":18.25,"s0":"n0","s1":"n1","s2":"n2","s3":"n3"},{"col":23,"row":18.25,"s0":"B","s1":"C","s2":"O2","s3":"O3"},
{"col":24,"row":18.25,"s0":"O4","s1":"O5","s2":"w","s3":"w"},{"col":26,"row":18.25,"s0":"w","s1":"w","s2":"O5","s3":"O4"},{"col":27,"row":18.25,"s0":"O3","s1":"O1","s2":"B","s3":"B"},{"col":28,"row":18.25,"s0":"B","s1":"n1","s2":"n0","s3":"n0"},{"col":30,"row":18.25,"s0":"n0","s1":"n1","s2":"n2","s3":"n3"},{"col":31,"row":18.25,"s0":"B","s1":"C","s2":"O2","s3":"O3"},
{"col":32,"row":18.25,"s0":"O4","s1":"O5","s2":"w","s3":"w"},{"col":34,"row":18.25,"s0":"w","s1":"w","s2":"O5","s3":"O4"},{"col":35,"row":18.25,"s0":"O3","s1":"O1","s2":"B","s3":"B"},{"col":36,"row":18.25,"s0":"B","s1":"n1","s2":"n0","s3":"n0"},{"col":38,"row":18.25,"s0":"n0","s1":"n1","s2":"n2","s3":"n3"},{"col":39,"row":18.25,"s0":"B","s1":"C","s2":"O2","s3":"O3"},
{"col":40,"row":18.25,"s0":"O4","s1":"O5","s2":"w","s3":"w"},{"col":42,"row":18.25,"s0":"w","s1":"w","s2":"O5","s3":"O4"},{"col":43,"row":18.25,"s0":"O3","s1":"O1","s2":"B","s3":"B"},{"col":44,"row":18.25,"s0":"B","s1":"n1","s2":"n0","s3":"n0"},{"col":46,"row":18.25,"s0":"n0","s1":"n1","s2":"n2","s3":"n3"},{"col":47,"row":18.25,"s0":"B","s1":"C","s2":"O2","s3":"O3"}]},
"mark":{"type":"rect","width":3,"height":12,"xOffset":-4.5},"encoding":{"color":{"field":"s0","type":"nominal","legend":null}}},
{"data":{"name":"dusk"},"mark":{"type":"rect","width":3,"height":12,"xOffset":-1.5},"encoding":{"color":{"field":"s1","type":"nominal","legend":null}}},
{"data":{"name":"dusk"},"mark":{"type":"rect","width":3,"height":12,"xOffset":1.5},"encoding":{"color":{"field":"s2","type":"nominal","legend":null}}},
{"data":{"name":"dusk"},"mark":{"type":"rect","width":3,"height":12,"xOffset":4.5},"encoding":{"color":{"field":"s3","type":"nominal","legend":null}}},
{"data":{"values":[{"col":3,"row":-0.375,"row2":10.375,"cat":"re"},{"col":27,"row":-0.375,"row2":10.375,"cat":"re"},{"col":51,"row":-0.375,"row2":10.375,"cat":"re"},{"col":75,"row":-0.375,"row2":10.375,"cat":"re"},{"col":5,"row":15.875,"row2":18.625,"cat":"re"},{"col":13,"row":15.875,"row2":18.625,"cat":"re"},{"col":21,"row":15.875,"row2":18.625,"cat":"re"},{"col":29,"row":15.875,"row2":18.625,"cat":"re"},{"col":37,"row":15.875,"row2":18.625,"cat":"re"},{"col":45,"row":15.875,"row2":18.625,"cat":"re"}]},
"mark":{"type":"rule","strokeWidth":2,"xOffset":-6},"encoding":{"y2":{"field":"row2"}}},
{"data":{"values":[
{"col":17.429,"row":-4.5,"label":"Verdemont Ranch Observatory","cat":"ye"},{"col":41.429,"row":-4.5,"label":"Clear Sky Chart","cat":"cy"}]},
"mark":{"type":"text","align":"left","baseline":"middle","font":"Liberation Mono","fontWeight":"bold","fontSize":20},"encoding":{"text":{"field":"label"}}},
{"data":{"values":[
{"col":-9.857,"row":-3,"label":"2026-08-10","cat":"gr"},{"col":-9.857,"row":-2.0625,"label":"Local Time","cat":"lo"},
{"col":-0.429,"row":-3,"label":"Mon","cat":"gr"},{"col":12.571,"row":-3,"label":"Tuesday, 11","cat":"ye"},{"col":36.571,"row":-3,"label":"Wednesday, 12","cat":"sa"},{"col":60.571,"row":-3,"label":"Thursday, 13","cat":"ma"},{"col":74.571,"row":-3,"label":"Fri","cat":"bl"},
{"col":-9,"row":-0.125,"label":"Cloud Cover:","cat":"wh"},{"col":-9,"row":0.875,"label":"ECMWF Cloud:","cat":"wh"},{"col":-9,"row":1.875,"label":"Transparency:","cat":"wh"},{"col":-9,"row":2.875,"label":"Seeing:","cat":"wh"},{"col":-9,"row":3.875,"label":"Darkness:","cat":"dg"},
{"col":-9,"row":6.875,"label":"Smoke:","cat":"wh"},{"col":-9,"row":7.875,"label":"Wind:","cat":"wh"},{"col":-9,"row":8.875,"label":"Humidity:","cat":"wh"},{"col":-9,"row":9.875,"label":"Temperature:","cat":"wh"},
{"col":-10,"row":12.0625,"label":"EXTENDED Forecast. Each block is 3 hours. (A sponsored feature)","cat":"re"},
{"col":-9.857,"row":13.3125,"label":"2026-08-14","cat":"bl"},{"col":-9.857,"row":14.1875,"label":"Local Time","cat":"lo"},
{"col":-0.143,"row":13.3125,"label":"Fri, 14","cat":"bl"},{"col":7.786,"row":13.3125,"label":"Sat, 15","cat":"gr"},{"col":15.786,"row":13.3125,"label":"Sun, 16","cat":"ye"},{"col":23.786,"row":13.3125,"label":"Mon, 17","cat":"sa"},{"col":31.786,"row":13.3125,"label":"Tue, 18","cat":"ma"},{"col":39.786,"row":13.3125,"label":"Wed, 19","cat":"bl"},{"col":44.571,"row":13.3125,"label":"Th","cat":"gr"},
{"col":-9,"row":16.125,"label":"Cloud Cover:","cat":"wh"},{"col":-9,"row":17.125,"label":"ECMWF Cloud:","cat":"wh"},{"col":-9,"row":18.125,"label":"Darkness:","cat":"dg"},
{"col":13.429,"row":20.8125,"label":"© 2026 Attilla Danko","cat":"wh"},{"col":27.571,"row":20.8125,"label":"forecast: A.Rahill","cat":"wh"},{"col":40.429,"row":20.8125,"label":"data:","cat":"wh"}]},
"mark":{"type":"text","align":"left","baseline":"middle","font":"Liberation Mono","fontSize":15},"encoding":{"text":{"field":"label"}}},
{"data":{"values":[{"col":-9.714,"row":-1.3125,"label":"(GMT -6+0)","cat":"lo"},{"col":-9.714,"row":14.9375,"label":"(GMT -6+0)","cat":"lo"}]},
"mark":{"type":"text","align":"left","baseline":"middle","font":"Liberation Mono","fontWeight":"bold","fontSize":8},"encoding":{"text":{"field":"label"}}},
{"data":{"values":[{"col":49.143,"row":20.5625,"label":"Environment","cat":"bk"},{"col":49.143,"row":21.0625,"label":"Canada","cat":"bk"},{"col":53.786,"row":20.5625,"label":"Environnement","cat":"bk"},{"col":53.786,"row":21.0625,"label":"Canada","cat":"bk"}]},
"mark":{"type":"text","align":"left","baseline":"middle","font":"Liberation Sans","fontSize":9},"encoding":{"text":{"field":"label"}}},
{"data":{"values":[{"col":-9.571,"row":1.9,"label":"— — Sky — —","cat":"ye"},{"col":-9.571,"row":8.53,"label":"— Ground —","cat":"gt"},{"col":-9.571,"row":17.28,"label":"— Sky —","cat":"ye"}]},
"mark":{"type":"text","align":"center","baseline":"middle","angle":270,"font":"Liberation Mono","fontSize":10},"encoding":{"text":{"field":"label"}}},
{"data":{"values":[
{"col":0,"row":-1.125,"label":"1","cat":"gr"},{"col":1,"row":-1.125,"label":"2","cat":"gr"},{"col":2,"row":-1.125,"label":"3","cat":"gr"},{"col":3,"row":-1.125,"label":"0","cat":"ye"},{"col":4,"row":-1.125,"label":"1","cat":"ye"},{"col":5,"row":-1.125,"label":"2","cat":"ye"},{"col":6,"row":-1.125,"label":"3","cat":"ye"},{"col":7,"row":-1.125,"label":"4","cat":"ye"},{"col":8,"row":-1.125,"label":"5","cat":"ye"},{"col":9,"row":-1.125,"label":"6","cat":"ye"},{"col":10,"row":-1.125,"label":"7","cat":"ye"},{"col":11,"row":-1.125,"label":"8","cat":"ye"},{"col":12,"row":-1.125,"label":"9","cat":"ye"},{"col":13,"row":-1.125,"label":"0","cat":"ye"},{"col":14,"row":-1.125,"label":"1","cat":"ye"},{"col":15,"row":-1.125,"label":"2","cat":"ye"},{"col":16,"row":-1.125,"label":"3","cat":"ye"},{"col":17,"row":-1.125,"label":"4","cat":"ye"},{"col":18,"row":-1.125,"label":"5","cat":"ye"},{"col":19,"row":-1.125,"label":"6","cat":"ye"},{"col":20,"row":-1.125,"label":"7","cat":"ye"},{"col":21,"row":-1.125,"label":"8","cat":"ye"},{"col":22,"row":-1.125,"label":"9","cat":"ye"},{"col":23,"row":-1.125,"label":"0","cat":"ye"},{"col":24,"row":-1.125,"label":"1","cat":"ye"},{"col":25,"row":-1.125,"label":"2","cat":"ye"},{"col":26,"row":-1.125,"label":"3","cat":"ye"},
{"col":27,"row":-1.125,"label":"0","cat":"sa"},{"col":28,"row":-1.125,"label":"1","cat":"sa"},{"col":29,"row":-1.125,"label":"2","cat":"sa"},{"col":30,"row":-1.125,"label":"3","cat":"sa"},{"col":31,"row":-1.125,"label":"4","cat":"sa"},{"col":32,"row":-1.125,"label":"5","cat":"sa"},{"col":33,"row":-1.125,"label":"6","cat":"sa"},{"col":34,"row":-1.125,"label":"7","cat":"sa"},{"col":35,"row":-1.125,"label":"8","cat":"sa"},{"col":36,"row":-1.125,"label":"9","cat":"sa"},{"col":37,"row":-1.125,"label":"0","cat":"sa"},{"col":38,"row":-1.125,"label":"1","cat":"sa"},{"col":39,"row":-1.125,"label":"2","cat":"sa"},{"col":40,"row":-1.125,"label":"3","cat":"sa"},{"col":41,"row":-1.125,"label":"4","cat":"sa"},{"col":42,"row":-1.125,"label":"5","cat":"sa"},{"col":43,"row":-1.125,"label":"6","cat":"sa"},{"col":44,"row":-1.125,"label":"7","cat":"sa"},{"col":45,"row":-1.125,"label":"8","cat":"sa"},{"col":46,"row":-1.125,"label":"9","cat":"sa"},{"col":47,"row":-1.125,"label":"0","cat":"sa"},{"col":48,"row":-1.125,"label":"1","cat":"sa"},{"col":49,"row":-1.125,"label":"2","cat":"sa"},{"col":50,"row":-1.125,"label":"3","cat":"sa"},
{"col":51,"row":-1.125,"label":"0","cat":"ma"},{"col":52,"row":-1.125,"label":"1","cat":"ma"},{"col":53,"row":-1.125,"label":"2","cat":"ma"},{"col":54,"row":-1.125,"label":"3","cat":"ma"},{"col":55,"row":-1.125,"label":"4","cat":"ma"},{"col":56,"row":-1.125,"label":"5","cat":"ma"},{"col":57,"row":-1.125,"label":"6","cat":"ma"},{"col":58,"row":-1.125,"label":"7","cat":"ma"},{"col":59,"row":-1.125,"label":"8","cat":"ma"},{"col":60,"row":-1.125,"label":"9","cat":"ma"},{"col":61,"row":-1.125,"label":"0","cat":"ma"},{"col":62,"row":-1.125,"label":"1","cat":"ma"},{"col":63,"row":-1.125,"label":"2","cat":"ma"},{"col":64,"row":-1.125,"label":"3","cat":"ma"},{"col":65,"row":-1.125,"label":"4","cat":"ma"},{"col":66,"row":-1.125,"label":"5","cat":"ma"},{"col":67,"row":-1.125,"label":"6","cat":"ma"},{"col":68,"row":-1.125,"label":"7","cat":"ma"},{"col":69,"row":-1.125,"label":"8","cat":"ma"},{"col":70,"row":-1.125,"label":"9","cat":"ma"},{"col":71,"row":-1.125,"label":"0","cat":"ma"},{"col":72,"row":-1.125,"label":"1","cat":"ma"},{"col":73,"row":-1.125,"label":"2","cat":"ma"},{"col":74,"row":-1.125,"label":"3","cat":"ma"},
{"col":75,"row":-1.125,"label":"0","cat":"bl"},{"col":76,"row":-1.125,"label":"1","cat":"bl"},{"col":77,"row":-1.125,"label":"2","cat":"bl"},{"col":78,"row":-1.125,"label":"3","cat":"bl"},{"col":79,"row":-1.125,"label":"4","cat":"bl"},{"col":80,"row":-1.125,"label":"5","cat":"bl"},{"col":81,"row":-1.125,"label":"6","cat":"bl"},
{"col":0,"row":-2.0625,"label":"2","cat":"gr"},{"col":1,"row":-2.0625,"label":"2","cat":"gr"},{"col":2,"row":-2.0625,"label":"2","cat":"gr"},
{"col":13,"row":-2.0625,"label":"1","cat":"ye"},{"col":14,"row":-2.0625,"label":"1","cat":"ye"},{"col":15,"row":-2.0625,"label":"1","cat":"ye"},{"col":16,"row":-2.0625,"label":"1","cat":"ye"},{"col":17,"row":-2.0625,"label":"1","cat":"ye"},{"col":18,"row":-2.0625,"label":"1","cat":"ye"},{"col":19,"row":-2.0625,"label":"1","cat":"ye"},{"col":20,"row":-2.0625,"label":"1","cat":"ye"},{"col":21,"row":-2.0625,"label":"1","cat":"ye"},{"col":22,"row":-2.0625,"label":"1","cat":"ye"},{"col":23,"row":-2.0625,"label":"2","cat":"ye"},{"col":24,"row":-2.0625,"label":"2","cat":"ye"},{"col":25,"row":-2.0625,"label":"2","cat":"ye"},{"col":26,"row":-2.0625,"label":"2","cat":"ye"},
{"col":37,"row":-2.0625,"label":"1","cat":"sa"},{"col":38,"row":-2.0625,"label":"1","cat":"sa"},{"col":39,"row":-2.0625,"label":"1","cat":"sa"},{"col":40,"row":-2.0625,"label":"1","cat":"sa"},{"col":41,"row":-2.0625,"label":"1","cat":"sa"},{"col":42,"row":-2.0625,"label":"1","cat":"sa"},{"col":43,"row":-2.0625,"label":"1","cat":"sa"},{"col":44,"row":-2.0625,"label":"1","cat":"sa"},{"col":45,"row":-2.0625,"label":"1","cat":"sa"},{"col":46,"row":-2.0625,"label":"1","cat":"sa"},{"col":47,"row":-2.0625,"label":"2","cat":"sa"},{"col":48,"row":-2.0625,"label":"2","cat":"sa"},{"col":49,"row":-2.0625,"label":"2","cat":"sa"},{"col":50,"row":-2.0625,"label":"2","cat":"sa"},
{"col":61,"row":-2.0625,"label":"1","cat":"ma"},{"col":62,"row":-2.0625,"label":"1","cat":"ma"},{"col":63,"row":-2.0625,"label":"1","cat":"ma"},{"col":64,"row":-2.0625,"label":"1","cat":"ma"},{"col":65,"row":-2.0625,"label":"1","cat":"ma"},{"col":66,"row":-2.0625,"label":"1","cat":"ma"},{"col":67,"row":-2.0625,"label":"1","cat":"ma"},{"col":68,"row":-2.0625,"label":"1","cat":"ma"},{"col":69,"row":-2.0625,"label":"1","cat":"ma"},{"col":70,"row":-2.0625,"label":"1","cat":"ma"},{"col":71,"row":-2.0625,"label":"2","cat":"ma"},{"col":72,"row":-2.0625,"label":"2","cat":"ma"},{"col":73,"row":-2.0625,"label":"2","cat":"ma"},{"col":74,"row":-2.0625,"label":"2","cat":"ma"},
{"col":0,"row":15.125,"label":"9","cat":"bl"},{"col":1,"row":15.125,"label":"2","cat":"bl"},{"col":2,"row":15.125,"label":"5","cat":"bl"},{"col":3,"row":15.125,"label":"8","cat":"bl"},{"col":4,"row":15.125,"label":"1","cat":"bl"},
{"col":5,"row":15.125,"label":"0","cat":"gr"},{"col":6,"row":15.125,"label":"3","cat":"gr"},{"col":7,"row":15.125,"label":"6","cat":"gr"},{"col":8,"row":15.125,"label":"9","cat":"gr"},{"col":9,"row":15.125,"label":"2","cat":"gr"},{"col":10,"row":15.125,"label":"5","cat":"gr"},{"col":11,"row":15.125,"label":"8","cat":"gr"},{"col":12,"row":15.125,"label":"1","cat":"gr"},
{"col":13,"row":15.125,"label":"0","cat":"ye"},{"col":14,"row":15.125,"label":"3","cat":"ye"},{"col":15,"row":15.125,"label":"6","cat":"ye"},{"col":16,"row":15.125,"label":"9","cat":"ye"},{"col":17,"row":15.125,"label":"2","cat":"ye"},{"col":18,"row":15.125,"label":"5","cat":"ye"},{"col":19,"row":15.125,"label":"8","cat":"ye"},{"col":20,"row":15.125,"label":"1","cat":"ye"},
{"col":21,"row":15.125,"label":"0","cat":"sa"},{"col":22,"row":15.125,"label":"3","cat":"sa"},{"col":23,"row":15.125,"label":"6","cat":"sa"},{"col":24,"row":15.125,"label":"9","cat":"sa"},{"col":25,"row":15.125,"label":"2","cat":"sa"},{"col":26,"row":15.125,"label":"5","cat":"sa"},{"col":27,"row":15.125,"label":"8","cat":"sa"},{"col":28,"row":15.125,"label":"1","cat":"sa"},
{"col":29,"row":15.125,"label":"0","cat":"ma"},{"col":30,"row":15.125,"label":"3","cat":"ma"},{"col":31,"row":15.125,"label":"6","cat":"ma"},{"col":32,"row":15.125,"label":"9","cat":"ma"},{"col":33,"row":15.125,"label":"2","cat":"ma"},{"col":34,"row":15.125,"label":"5","cat":"ma"},{"col":35,"row":15.125,"label":"8","cat":"ma"},{"col":36,"row":15.125,"label":"1","cat":"ma"},
{"col":37,"row":15.125,"label":"0","cat":"bl"},{"col":38,"row":15.125,"label":"3","cat":"bl"},{"col":39,"row":15.125,"label":"6","cat":"bl"},{"col":40,"row":15.125,"label":"9","cat":"bl"},{"col":41,"row":15.125,"label":"2","cat":"bl"},{"col":42,"row":15.125,"label":"5","cat":"bl"},{"col":43,"row":15.125,"label":"8","cat":"bl"},{"col":44,"row":15.125,"label":"1","cat":"bl"},
{"col":45,"row":15.125,"label":"0","cat":"gr"},{"col":46,"row":15.125,"label":"3","cat":"gr"},{"col":47,"row":15.125,"label":"6","cat":"gr"},
{"col":1,"row":14.1875,"label":"1","cat":"bl"},{"col":2,"row":14.1875,"label":"1","cat":"bl"},{"col":3,"row":14.1875,"label":"1","cat":"bl"},{"col":4,"row":14.1875,"label":"2","cat":"bl"},
{"col":9,"row":14.1875,"label":"1","cat":"gr"},{"col":10,"row":14.1875,"label":"1","cat":"gr"},{"col":11,"row":14.1875,"label":"1","cat":"gr"},{"col":12,"row":14.1875,"label":"2","cat":"gr"},
{"col":17,"row":14.1875,"label":"1","cat":"ye"},{"col":18,"row":14.1875,"label":"1","cat":"ye"},{"col":19,"row":14.1875,"label":"1","cat":"ye"},{"col":20,"row":14.1875,"label":"2","cat":"ye"},
{"col":25,"row":14.1875,"label":"1","cat":"sa"},{"col":26,"row":14.1875,"label":"1","cat":"sa"},{"col":27,"row":14.1875,"label":"1","cat":"sa"},{"col":28,"row":14.1875,"label":"2","cat":"sa"},
{"col":33,"row":14.1875,"label":"1","cat":"ma"},{"col":34,"row":14.1875,"label":"1","cat":"ma"},{"col":35,"row":14.1875,"label":"1","cat":"ma"},{"col":36,"row":14.1875,"label":"2","cat":"ma"},
{"col":41,"row":14.1875,"label":"1","cat":"bl"},{"col":42,"row":14.1875,"label":"1","cat":"bl"},{"col":43,"row":14.1875,"label":"1","cat":"bl"},{"col":44,"row":14.1875,"label":"2","cat":"bl"}]},
"mark":{"type":"text","align":"center","baseline":"middle","font":"Roboto","fontSize":15},"encoding":{"text":{"field":"label"}}}
]}
